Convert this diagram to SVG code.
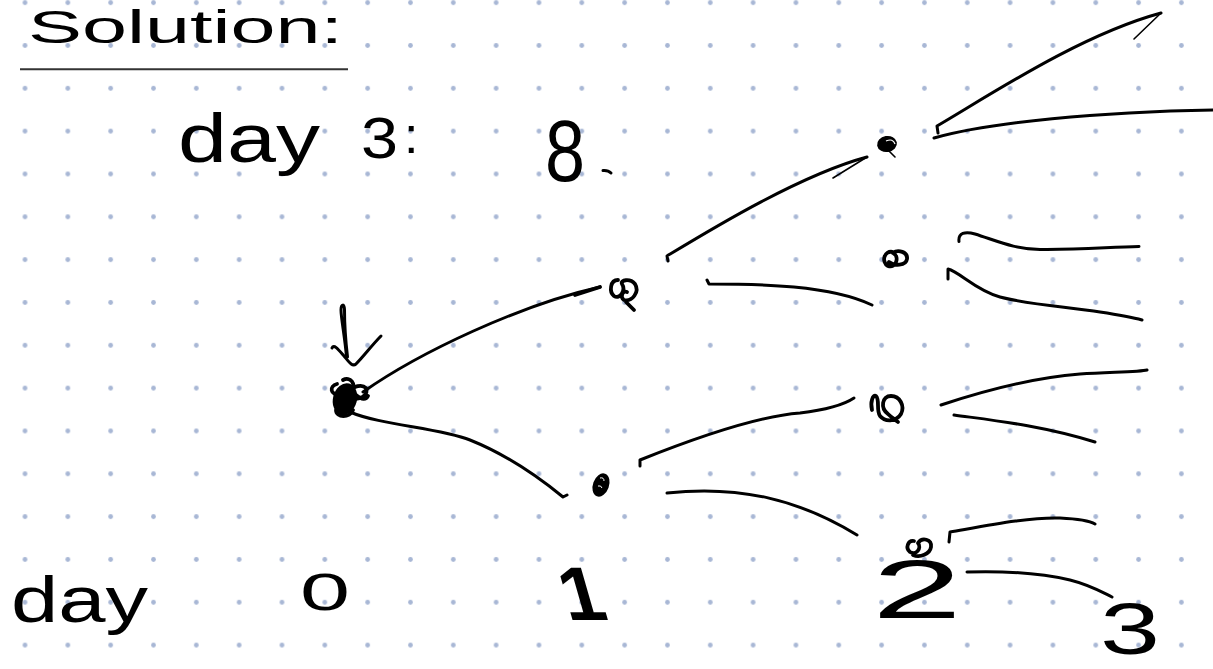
<svg xmlns="http://www.w3.org/2000/svg" width="1213" height="669" viewBox="0 0 1213 669">
  <defs>
    <!-- dotted notebook paper -->
    <pattern id="dots" patternUnits="userSpaceOnUse" x="3.585" y="-18.745" width="42.83" height="42.83">
      <circle cx="21.415" cy="21.415" r="2.4" fill="#a8b7d5"/>
    </pattern>
    <style>
      .ink { fill: none; stroke: #000; stroke-width: 3; stroke-linecap: round; stroke-linejoin: round; }
      .thin { stroke-width: 1.6; }
      .heavy { stroke-width: 3.8; }
      .blob { fill: #000; stroke: #000; stroke-width: 2; }
      .hand { font-family: "Liberation Sans", "DejaVu Sans", sans-serif; fill: #000; }
    </style>
  </defs>

  <rect width="1213" height="669" fill="#ffffff"/>
  <rect width="1213" height="669" fill="url(#dots)"/>

  <!-- heading -->
  <g id="heading">
    <text class="hand" x="28" y="43" font-size="46" textLength="315" lengthAdjust="spacingAndGlyphs">Solution:</text>
    <path d="M20,69.3 L348,69.3" fill="none" stroke="#333" stroke-width="2"/>
  </g>

  <!-- result line -->
  <g id="result">
    <text class="hand" x="178" y="162" font-size="68" textLength="142" lengthAdjust="spacingAndGlyphs">day</text>
    <text class="hand" x="361" y="158" font-size="57" textLength="37" lengthAdjust="spacingAndGlyphs">3</text>
    <text class="hand" x="404" y="153" font-size="52">:</text>
    <text class="hand" x="545" y="181" font-size="88" textLength="40" lengthAdjust="spacingAndGlyphs">8</text>
    <path class="ink" d="M603,170.5 Q608,170 611,173"/>
  </g>

  <!-- day axis -->
  <g id="axis">
    <text class="hand" x="11" y="622" font-size="64" textLength="137" lengthAdjust="spacingAndGlyphs">day</text>
    <text class="hand" x="300" y="610" font-size="52" textLength="50" lengthAdjust="spacingAndGlyphs">0</text>
    <text class="hand" font-size="76" font-weight="bold" text-anchor="middle" transform="translate(589,620) skewX(16)">1</text>
    <text class="hand" x="872" y="618" font-size="84" textLength="90" lengthAdjust="spacingAndGlyphs">2</text>
    <text class="hand" x="1100" y="654" font-size="72" textLength="60" lengthAdjust="spacingAndGlyphs">3</text>
  </g>

  <!-- start marker arrow -->
  <g id="start-arrow">
    <path class="ink" d="M346.5,357 C345,338 341,318 341,310 C341,304 344.5,303 344.5,310 C344.5,326 346,344 347.5,357"/>
    <path class="ink" d="M332,348 C334,344 338,349 344,356 C349,362 352,367 356,364 C364,356 372,345 381,336"/>
  </g>

  <!-- tree nodes -->
  <g id="node-root">
    <ellipse class="blob" cx="345" cy="399" rx="11" ry="15" transform="rotate(15 345 399)"/>
    <path class="ink heavy" d="M337,384 C329,386 330,396 340,394 C350,390 360,382 366,388 C369,395 359,401 352,398 M343,380 C350,376 357,384 351,391 M336,410 C336,418 350,418 353,410 M356,395 C362,400 366,400 368,396"/>
  </g>
  <g id="node-1a">
    <path class="ink heavy" d="M618,280 C610,280 609,292 614,296 C620,300 626,290 622,284 C620,280 630,278 635,284 C640,292 632,302 624,300 C620,298 622,290 627,292 M626,302 L634,310"/>
  </g>
  <g id="node-1b">
    <ellipse class="blob" cx="601" cy="485" rx="7" ry="11" transform="rotate(20 601 485)"/>
    <path d="M600,478 Q604,477 604,481 M598,486 Q601,485 602,488" fill="none" stroke="#fff" stroke-width="1"/>
  </g>
  <g id="node-2a">
    <ellipse class="blob" cx="887" cy="144" rx="9" ry="7" transform="rotate(-10 887 144)"/>
    <path d="M886,141 Q893,138 895,144" fill="none" stroke="#fff" stroke-width="1.2"/>
    <path class="ink thin" d="M888,150 L895,157"/>
  </g>
  <g id="node-2b">
    <path class="ink heavy" d="M893,252 C884,250 881,262 888,266 C896,269 900,256 893,253 C898,249 908,252 907,259 C906,266 894,266 889,262"/>
  </g>
  <g id="node-2c">
    <path class="ink heavy" d="M872,410 C870,402 873,394 876,396 C880,400 876,410 880,416 C885,422 896,422 901,414 C905,406 900,396 891,396 C882,396 880,408 888,414 C892,418 896,420 898,422"/>
  </g>
  <g id="node-2d">
    <path class="ink heavy" d="M914,541 C908,540 905,548 910,552 C916,556 922,548 918,543 C922,537 932,539 931,547 C930,554 920,558 913,555"/>
  </g>

  <!-- branches -->
  <g id="connectors">
    <path class="ink" d="M363,392 C420,352 520,305 600,287"/>
    <path class="ink heavy" d="M575,295 L600,287"/>
    <path class="ink" d="M350,412 C380,425 440,428 470,440 C500,452 530,470 563,497 L567,495"/>

    <path class="ink" d="M668,261 L667,256 C710,230 800,175 867,157"/>
    <path class="ink thin" d="M867,157 L833,178"/>
    <path class="ink" d="M707,280 L709,284 C760,284 830,285 872,305"/>

    <path class="ink" d="M640,466 L640,460 C700,436 760,416 800,413 C825,410 842,406 854,398"/>
    <path class="ink" d="M667,493 C740,485 800,500 857,535"/>

    <path class="ink" d="M938,133 L937,126 C990,95 1080,35 1161,13"/>
    <path class="ink thin" d="M1161,13 L1134,39"/>
    <path class="ink" d="M934,138 C990,122 1100,112 1213,110"/>

    <path class="ink" d="M959,241.5 C958,233 965,231 975,234 C1000,242 1015,249 1040,249.5 C1080,250 1110,247 1139,246.5"/>
    <path class="ink" d="M948,279 L948,269 C960,272 975,290 1000,297 C1030,305 1070,307 1100,312 C1120,315 1135,318 1142,320"/>

    <path class="ink" d="M941,405 C980,392 1030,378 1080,374 C1110,372 1140,372 1147,370"/>
    <path class="ink" d="M954,415 C990,420 1040,425 1095,442"/>

    <path class="ink" d="M949,542 L950,532 C990,525 1030,517 1060,518 C1080,519 1090,521 1095,524"/>
    <path class="ink" d="M967,572 C1000,571 1040,573 1070,580 C1090,585 1100,591 1112,597"/>
  </g>
</svg>
